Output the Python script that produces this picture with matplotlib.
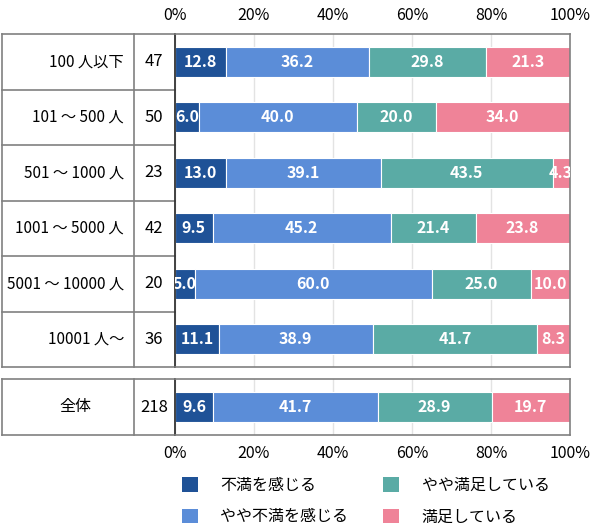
import matplotlib.pyplot as plt
from matplotlib.patches import Patch
from matplotlib.ticker import FuncFormatter

plt.rcParams["font.family"] = ["Noto Sans CJK JP", "DejaVu Sans"]

categories = ["100 人以下", "101 ～ 500 人", "501 ～ 1000 人", "1001 ～ 5000 人",
              "5001 ～ 10000 人", "10001 人～"]
counts = [47, 50, 23, 42, 20, 36]
dissatisfied = [12.8, 6.0, 13.0, 9.5, 5.0, 11.1]
somewhat_dissatisfied = [36.2, 40.0, 39.1, 45.2, 60.0, 38.9]
somewhat_satisfied = [29.8, 20.0, 43.5, 21.4, 25.0, 41.7]
satisfied = [21.3, 34.0, 4.3, 23.8, 10.0, 8.3]

total_label = "全体"
total_count = 218
total_values = [9.6, 41.7, 28.9, 19.7]

series_names = ["不満を感じる", "やや不満を感じる", "やや満足している", "満足している"]
colors = ["#1f5297", "#5b8dd8", "#5aaba5", "#ef8398"]

W, H = 590, 531
X0, X1 = 175, 570  # pixel positions of 0% and 100%


def ax_x(px):
    return (px - X0) / (X1 - X0)


fig = plt.figure(figsize=(W / 100, H / 100), dpi=100)
ax1 = fig.add_axes([X0 / W, 1 - 367 / H, (X1 - X0) / W, (367 - 34) / H])
ax2 = fig.add_axes([X0 / W, 1 - 435 / H, (X1 - X0) / W, (435 - 379) / H])

grey = "#808080"


def style(ax, top):
    ax.set_xlim(0, 100)
    ax.set_xticks(range(0, 101, 20))
    ax.xaxis.set_major_formatter(FuncFormatter(lambda v, p: f"{v:.0f}%"))
    ax.tick_params(axis="x", length=0, pad=7, labelsize=11.5,
                   top=top, labeltop=top, bottom=not top, labelbottom=not top)
    ax.set_yticks([])
    ax.xaxis.grid(True, color="#e3e3e3", lw=1)
    ax.set_axisbelow(True)
    for s in ["top", "bottom", "right"]:
        ax.spines[s].set_color(grey)
        ax.spines[s].set_linewidth(1.2)
    ax.spines["left"].set_color("#333333")
    ax.spines["left"].set_linewidth(1.3)


def draw_rows(ax, labels, ns, rows, centered=False):
    n = len(labels)
    ax.set_ylim(n - 0.5, -0.5)
    for i, vals in enumerate(rows):
        left = 0
        for v, c in zip(vals, colors):
            ax.barh(i, v, left=left, height=0.54, color=c, edgecolor="white", lw=0.8)
            ax.text(left + v / 2, i, f"{v:.1f}", ha="center", va="center",
                    color="white", fontsize=11.5, fontweight="bold", clip_on=True)
            left += v
    tr = ax.get_yaxis_transform()
    for i, (lab, cnt) in enumerate(zip(labels, ns)):
        if centered:
            ax.text(ax_x(75), i, lab, ha="center", va="center", fontsize=11.5,
                    transform=tr, clip_on=False)
        else:
            ax.text(ax_x(124), i, lab, ha="right", va="center", fontsize=11,
                    transform=tr, clip_on=False)
        ax.text(ax_x(154), i, str(cnt), ha="center", va="center", fontsize=12,
                transform=tr, clip_on=False)
    # table grid
    for k in range(n + 1):
        ax.plot([ax_x(2), 0], [k - 0.5, k - 0.5], color=grey, lw=1.2,
                transform=tr, clip_on=False)
    for px in (2, 134):
        ax.plot([ax_x(px)] * 2, [-0.5, n - 0.5], color=grey, lw=1.2,
                transform=tr, clip_on=False)


style(ax1, top=True)
style(ax2, top=False)

rows = list(zip(dissatisfied, somewhat_dissatisfied, somewhat_satisfied, satisfied))
draw_rows(ax1, categories, counts, rows)
draw_rows(ax2, [total_label], [total_count], [total_values], centered=True)

handles = [Patch(facecolor=c, edgecolor="none") for c in colors]
fig.legend(handles, series_names, ncol=2, loc="upper left",
           bbox_to_anchor=(182 / W, 1 - 477 / H), frameon=False, fontsize=11.5,
           handlelength=1.0, handleheight=1.0, handletextpad=1.4,
           columnspacing=2.2, labelspacing=0.9, borderpad=0, borderaxespad=0)

fig.savefig("out.png", dpi=100)
